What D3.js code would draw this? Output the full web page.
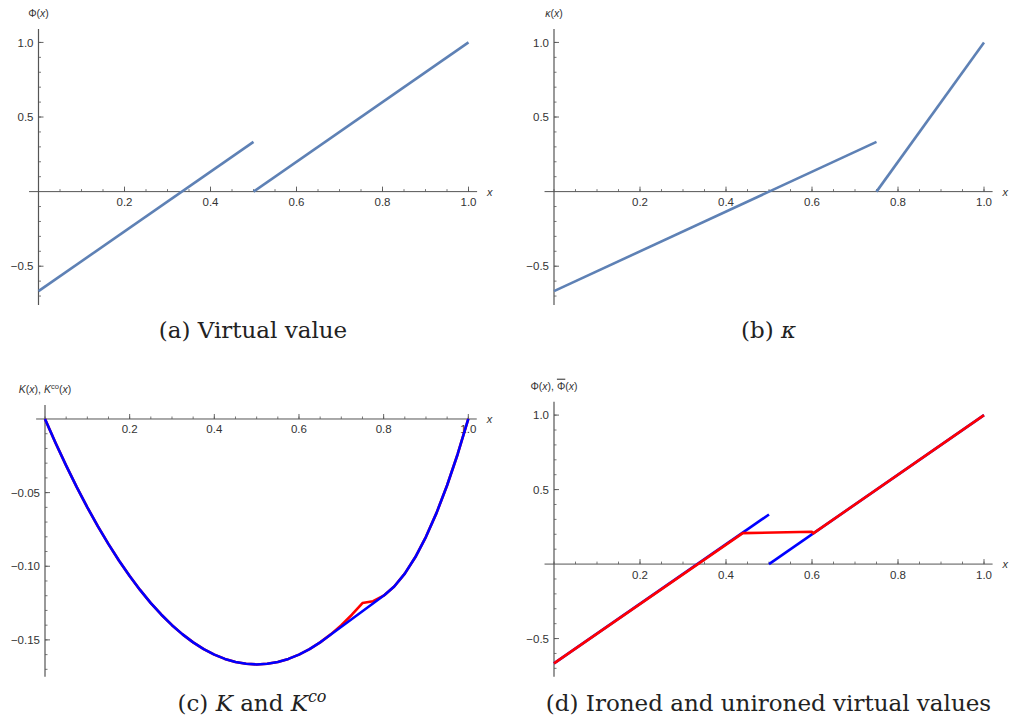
<!DOCTYPE html>
<html>
<head>
<meta charset="utf-8">
<script src="https://cdn.jsdelivr.net/npm/d3@7"></script>
<style>
  body { margin: 0; background: #fff; }
  svg { display: block; background: #fff; }
  .tick-label { font-family: 'Liberation Sans', Arial, sans-serif; font-size: 11.5px; fill: #333; }
  .axis-label { font-family: 'Liberation Sans', Arial, sans-serif; font-size: 10.5px; fill: #333; }
  .caption { font-family: 'DejaVu Serif', serif; font-size: 23px; fill: #222; }
</style>
</head>
<body>
<svg width="1011" height="719"></svg>
<script>
// ---- data ----
const xTickValues = [0.2, 0.4, 0.6, 0.8, 1.0];
const xTickLabels = ['0.2', '0.4', '0.6', '0.8', '1.0'];
const phiTickValues = [-0.5, 0.5, 1.0];
const phiTickLabels = ['\u22120.5', '0.5', '1.0'];
const kTickValues = [-0.15, -0.10, -0.05];
const kTickLabels = ['\u22120.15', '\u22120.10', '\u22120.05'];

// (a) virtual value, two pieces
const phiX1 = [0, 0.5];
const phiY1 = [-0.667, 0.333];
const phiX2 = [0.5, 1.0];
const phiY2 = [0, 1.0];

// (b) kappa, two pieces
const kappaX1 = [0, 0.75];
const kappaY1 = [-0.667, 0.333];
const kappaX2 = [0.75, 1.0];
const kappaY2 = [0, 1.0];

// (c) K (red) and its convex hull K^co (blue)
const kX = [0, 0.025, 0.05, 0.075, 0.1, 0.125, 0.15, 0.175, 0.2, 0.225, 0.25, 0.275, 0.3, 0.325,
  0.35, 0.375, 0.4, 0.425, 0.45, 0.475, 0.5, 0.525, 0.55, 0.575, 0.6, 0.625, 0.65, 0.675, 0.7,
  0.725, 0.75, 0.775, 0.8, 0.825, 0.85, 0.875, 0.9, 0.925, 0.95, 0.975, 1.0];
const kY = [0, -0.01625, -0.03167, -0.04625, -0.06, -0.07292, -0.085, -0.09625, -0.10667, -0.11625,
  -0.125, -0.13292, -0.14, -0.14625, -0.15167, -0.15625, -0.16, -0.16292, -0.165, -0.16625, -0.16667,
  -0.16625, -0.165, -0.16292, -0.16, -0.15625, -0.15167, -0.14625, -0.14, -0.13292, -0.125,
  -0.12375, -0.12, -0.11375, -0.105, -0.09375, -0.08, -0.06375, -0.045, -0.02375, 0];
const kcoX = [0, 0.025, 0.05, 0.075, 0.1, 0.125, 0.15, 0.175, 0.2, 0.225, 0.25, 0.275, 0.3, 0.325,
  0.35, 0.375, 0.4, 0.425, 0.45, 0.475, 0.5, 0.525, 0.55, 0.575, 0.6, 0.625, 0.65, 0.6585, 0.8028,
  0.825, 0.85, 0.875, 0.9, 0.925, 0.95, 0.975, 1.0];
const kcoY = [0, -0.01625, -0.03167, -0.04625, -0.06, -0.07292, -0.085, -0.09625, -0.10667, -0.11625,
  -0.125, -0.13292, -0.14, -0.14625, -0.15167, -0.15625, -0.16, -0.16292, -0.165, -0.16625, -0.16667,
  -0.16625, -0.165, -0.16292, -0.16, -0.15625, -0.15167, -0.1499, -0.1194,
  -0.11375, -0.105, -0.09375, -0.08, -0.06375, -0.045, -0.02375, 0];

// (d) ironed virtual value (red)
const ironX = [0, 0.439, 0.600, 0.603, 1.0];
const ironY = [-0.667, 0.208, 0.217, 0.206, 1.0];

function whenLoaded() {
  const svg = d3.select('svg');
  const muted = '#5e81b5';
  const red = '#ff0000';
  const blue = '#0000ff';

  const drawPanel = p => {
    const xScale = d3.scaleLinear().domain([0, 1]).range(p.xRange);
    const yScale = d3.scaleLinear().domain(p.yDomain).range(p.yRange);
    const g = svg.append('g');
    const axisColor = '#555';
    const x0 = xScale(0), y0 = yScale(0);

    // x axis line
    g.append('line')
      .attr('x1', xScale(p.xAxisDomain[0])).attr('x2', xScale(p.xAxisDomain[1]))
      .attr('y1', y0).attr('y2', y0)
      .attr('stroke', axisColor).attr('stroke-width', 1);
    // y axis line
    g.append('line')
      .attr('x1', x0).attr('x2', x0)
      .attr('y1', yScale(p.yDomain[0])).attr('y2', yScale(p.yDomain[1]))
      .attr('stroke', axisColor).attr('stroke-width', 1.2);

    // x ticks (minor every 0.05)
    const xMinor = d3.range(0, 21).map(i => i * 0.05);
    g.selectAll('.xminor').data(xMinor).enter().append('line')
      .attr('x1', d => xScale(d)).attr('x2', d => xScale(d))
      .attr('y1', y0).attr('y2', y0 - 2.5)
      .attr('stroke', axisColor).attr('stroke-width', 0.8);
    g.selectAll('.xmajor').data(xTickValues).enter().append('line')
      .attr('x1', d => xScale(d)).attr('x2', d => xScale(d))
      .attr('y1', y0).attr('y2', y0 - 5)
      .attr('stroke', axisColor).attr('stroke-width', 0.9);
    g.selectAll('.xlab').data(xTickValues).enter().append('text')
      .attr('class', 'tick-label')
      .attr('x', d => xScale(d)).attr('y', y0 + 14.5)
      .attr('text-anchor', 'middle')
      .text((d, i) => xTickLabels[i]);

    // y ticks
    g.selectAll('.yminor').data(p.yMinor).enter().append('line')
      .attr('x1', x0).attr('x2', x0 + 2.5)
      .attr('y1', d => yScale(d)).attr('y2', d => yScale(d))
      .attr('stroke', axisColor).attr('stroke-width', 0.8);
    g.selectAll('.ymajor').data(p.yTicks).enter().append('line')
      .attr('x1', x0).attr('x2', x0 + 5)
      .attr('y1', d => yScale(d)).attr('y2', d => yScale(d))
      .attr('stroke', axisColor).attr('stroke-width', 0.9);
    g.selectAll('.ylab').data(p.yTicks).enter().append('text')
      .attr('class', 'tick-label')
      .attr('x', x0 - 5).attr('y', d => yScale(d))
      .attr('dy', '0.36em')
      .attr('text-anchor', 'end')
      .text((d, i) => p.yLabels[i]);

    // axis labels
    const xl = g.append('text').attr('class', 'axis-label')
      .attr('x', xScale(p.xAxisDomain[1]) + 10).attr('y', y0 + 4)
      .style('font-style', 'italic').style('font-size', '11px')
      .text('x');
    const yl = g.append('text').attr('class', 'axis-label')
      .attr('x', x0).attr('y', yScale(p.yDomain[1]) - 12)
      .attr('text-anchor', 'middle');
    p.yAxisLabel(yl);

    // curves
    const line = d3.line().x(d => xScale(d[0])).y(d => yScale(d[1]));
    p.series.forEach(s => {
      g.append('path')
        .datum(d3.zip(s.xs, s.ys))
        .attr('d', line)
        .attr('fill', 'none')
        .attr('stroke', s.color)
        .attr('stroke-width', 2.6)
        .attr('stroke-linejoin', 'round');
    });

    // caption
    p.caption(svg.append('text').attr('class', 'caption')
      .attr('x', p.captionX).attr('y', p.captionY)
      .attr('text-anchor', 'middle'));
  };

  const phiMinor = d3.range(-7, 11).filter(i => i !== 0).map(i => i / 10);
  const kMinor = d3.range(-17, 0).map(i => i / 100);

  const italic = (t, s) => t.append('tspan').style('font-style', 'italic').text(s);

  drawPanel({
    xRange: [38.5, 468.5], yDomain: [-0.76, 1.09], yRange: [305, 29],
    xAxisDomain: [-0.022, 1.02], yTicks: phiTickValues, yLabels: phiTickLabels, yMinor: phiMinor,
    yAxisLabel: t => { t.append('tspan').text('\u03a6('); italic(t, 'x'); t.append('tspan').text(')'); },
    series: [{ xs: phiX1, ys: phiY1, color: muted }, { xs: phiX2, ys: phiY2, color: muted }],
    captionX: 253, captionY: 338,
    caption: t => t.text('(a) Virtual value')
  });

  drawPanel({
    xRange: [554, 984], yDomain: [-0.76, 1.09], yRange: [305, 29],
    xAxisDomain: [-0.022, 1.02], yTicks: phiTickValues, yLabels: phiTickLabels, yMinor: phiMinor,
    yAxisLabel: t => { italic(t, '\u03ba'); t.append('tspan').text('('); italic(t, 'x'); t.append('tspan').text(')'); },
    series: [{ xs: kappaX1, ys: kappaY1, color: muted }, { xs: kappaX2, ys: kappaY2, color: muted }],
    captionX: 768.5, captionY: 338,
    caption: t => { t.append('tspan').text('(b) '); italic(t, '\u03ba'); }
  });

  drawPanel({
    xRange: [45, 468.3], yDomain: [-0.175, 0.0095], yRange: [676.7, 405],
    xAxisDomain: [-0.021, 1.02], yTicks: kTickValues, yLabels: kTickLabels, yMinor: kMinor,
    yAxisLabel: t => {
      italic(t, 'K'); t.append('tspan').text('('); italic(t, 'x'); t.append('tspan').text('), ');
      italic(t, 'K');
      t.append('tspan').attr('dy', -4).style('font-size', '7.5px').text('co');
      t.append('tspan').attr('dy', 4).text('('); italic(t, 'x'); t.append('tspan').text(')');
    },
    series: [{ xs: kX, ys: kY, color: red }, { xs: kcoX, ys: kcoY, color: blue }],
    captionX: 252, captionY: 711,
    caption: t => {
      t.append('tspan').text('(c) '); italic(t, 'K'); t.append('tspan').text(' and ');
      italic(t, 'K');
      t.append('tspan').attr('dy', -9).style('font-size', '16px').style('font-style', 'italic').text('co');
    }
  });

  drawPanel({
    xRange: [554, 984], yDomain: [-0.756, 1.09], yRange: [676.7, 401.7],
    xAxisDomain: [-0.022, 1.02], yTicks: phiTickValues, yLabels: phiTickLabels, yMinor: phiMinor,
    yAxisLabel: t => {
      t.append('tspan').text('\u03a6('); italic(t, 'x'); t.append('tspan').text('), ');
      t.append('tspan').style('text-decoration', 'overline').text('\u03a6');
      t.append('tspan').text('('); italic(t, 'x'); t.append('tspan').text(')');
    },
    series: [{ xs: phiX1, ys: phiY1, color: blue }, { xs: phiX2, ys: phiY2, color: blue },
             { xs: ironX, ys: ironY, color: red }],
    captionX: 768.5, captionY: 711,
    caption: t => t.text('(d) Ironed and unironed virtual values')
  });
}

window.onload = whenLoaded;
</script>
</body>
</html>
